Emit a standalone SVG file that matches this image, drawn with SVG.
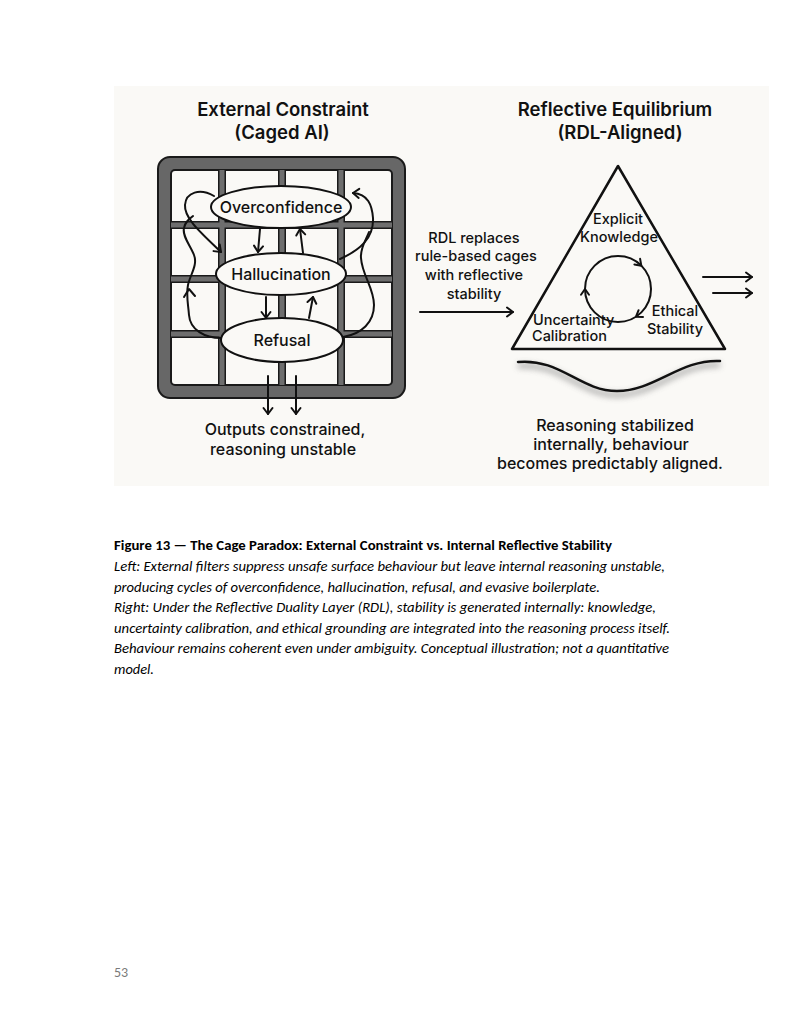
<svg xmlns="http://www.w3.org/2000/svg" width="799" height="1032" viewBox="0 0 799 1032">
<style>
  .t{font-family:Inter,"Noto Sans","Liberation Sans",sans-serif;fill:#111;text-anchor:middle;font-weight:500}
  .h{font-size:18.5px;font-weight:600}
  .n{font-size:16px}
  .s{font-size:14.5px}
  .ln{fill:none;stroke:#111;stroke-width:2;stroke-linecap:round;stroke-linejoin:round}
  .cap{font-family:Carlito,Lato,"Liberation Sans",sans-serif;font-size:13.3px;fill:#000}
  .ell{fill:#faf9f6;stroke:#111;stroke-width:2}
</style>
<defs>
  <marker id="ah" markerWidth="12" markerHeight="12" refX="9" refY="6" orient="auto" markerUnits="userSpaceOnUse">
    <path d="M3,1.5 L9,6 L3,10.5" fill="none" stroke="#111" stroke-width="2" stroke-linecap="round" stroke-linejoin="round"/>
  </marker>
  <filter id="sh" x="-20%" y="-100%" width="140%" height="400%">
    <feGaussianBlur stdDeviation="3"/>
  </filter>
</defs>
<rect width="799" height="1032" fill="#fff"/>
<rect x="114" y="86" width="655" height="400" fill="#faf9f6"/>

<g id="title-left">
  <text class="t h" x="283" y="116">External Constraint</text>
  <text class="t h" x="282" y="139">(Caged AI)</text>
</g>
<g id="title-right">
  <text class="t h" x="615" y="116">Reflective Equilibrium</text>
  <text class="t h" x="620" y="139">(RDL-Aligned)</text>
</g>

<g id="cage">
  <rect x="158" y="157" width="247" height="241" rx="12" fill="#676767" stroke="#1a1a1a" stroke-width="2"/>
  <rect x="171" y="170" width="221" height="215" rx="4" fill="#faf9f6" stroke="#1a1a1a" stroke-width="2"/>
  <g fill="#1a1a1a">
    <rect x="218" y="170" width="8" height="215"/>
    <rect x="278" y="170" width="8" height="215"/>
    <rect x="337" y="170" width="8" height="215"/>
    <rect x="171" y="221" width="221" height="8"/>
    <rect x="171" y="275" width="221" height="8"/>
    <rect x="171" y="330" width="221" height="8"/>
  </g>
  <g fill="#6e6e6e">
    <rect x="219.5" y="170" width="5" height="215"/>
    <rect x="279.5" y="170" width="5" height="215"/>
    <rect x="338.5" y="170" width="5" height="215"/>
    <rect x="171" y="222.5" width="221" height="5"/>
    <rect x="171" y="276.5" width="221" height="5"/>
    <rect x="171" y="331.5" width="221" height="5"/>
  </g>
</g>

<g id="connectors">
  <path class="ln" d="M260,229 L258,252" marker-end="url(#ah)"/>
  <path class="ln" d="M303,253 L300,229" marker-end="url(#ah)"/>
  <path class="ln" d="M266,297 L266,318" marker-end="url(#ah)"/>
  <path class="ln" d="M309,318 L313,297" marker-end="url(#ah)"/>
  <path class="ln" d="M214,196 C200,188 186,192 185,205 C184,218 200,232 221,252" marker-end="url(#ah)"/>
  <path class="ln" d="M221,338 C205,338 190,330 189,315 C188,303 186,295 188,285 C190,275 198,265 194,255 C190,245 182,236 184,228 C185,222 189,219 193,216"/>
  <path class="ln" d="M184,297 L189,289 L195,296"/>
  <path class="ln" d="M340,259 C360,250 374,238 373,218 C372,205 368,194 353,193" marker-end="url(#ah)"/>
  <path class="ln" d="M343,337 C362,334 374,322 374,305 C374,288 362,275 361,258 C360,248 366,240 369,232"/>
  <path class="ln" d="M268,376 L268,414" marker-end="url(#ah)"/>
  <path class="ln" d="M296,376 L296,414" marker-end="url(#ah)"/>
  <path class="ln" d="M420,312 L513,312" marker-end="url(#ah)"/>
  <path class="ln" d="M703,277 L752,277" marker-end="url(#ah)"/>
  <path class="ln" d="M713,293 L752,293" marker-end="url(#ah)"/>
</g>

<g id="overconfidence">
  <ellipse class="ell" cx="281" cy="207" rx="70" ry="21"/>
  <text class="t n" x="281" y="213">Overconfidence</text>
</g>
<g id="hallucination">
  <ellipse class="ell" cx="281" cy="274" rx="65" ry="21"/>
  <text class="t n" x="281" y="280">Hallucination</text>
</g>
<g id="refusal">
  <ellipse class="ell" cx="282" cy="340" rx="61" ry="22"/>
  <text class="t n" x="282" y="346">Refusal</text>
</g>

<g id="left-outcome">
  <text class="t n" x="285" y="435">Outputs constrained,</text>
  <text class="t n" x="283" y="455">reasoning unstable</text>
</g>

<g id="rdl-label">
  <text class="t s" x="474" y="243">RDL replaces</text>
  <text class="t s" x="476" y="261">rule-based cages</text>
  <text class="t s" x="474" y="280">with reflective</text>
  <text class="t s" x="474" y="299">stability</text>
</g>

<g id="equilibrium">
  <path d="M618,166 L512,349 L725,349 Z" fill="#faf9f6" stroke="#111" stroke-width="2.5" stroke-linejoin="round"/>
  <circle cx="618" cy="289" r="33" class="ln"/>
  <path class="ln" d="M640.1,258.8 L641.3,265.7 L634.4,264.5"/>
  <path class="ln" d="M643,317 L636,316.7 L638.6,310.2"/>
  <path class="ln" d="M581,294.7 L585,289 L589,294.7"/>
  <text class="t s" x="618" y="224">Explicit</text>
  <text class="t s" x="619" y="242">Knowledge</text>
  <text class="t s" x="675" y="316">Ethical</text>
  <text class="t s" x="675" y="334">Stability</text>
  <text class="t s" x="533" y="325" style="text-anchor:start">Uncertainty</text>
  <text class="t s" x="532" y="341" style="text-anchor:start">Calibration</text>
</g>

<g id="base-wave">
  <path d="M518,366 C560,362 580,395 617,395 C655,395 680,363 720,365" fill="none" stroke="#888" stroke-width="4" filter="url(#sh)" opacity="0.8"/>
  <path d="M518,362 C560,358 580,391 617,391 C655,391 680,359 720,361" fill="none" stroke="#111" stroke-width="2.5" stroke-linecap="round"/>
</g>

<g id="right-outcome">
  <text class="t n" x="615" y="431">Reasoning stabilized</text>
  <text class="t n" x="611" y="450">internally, behaviour</text>
  <text class="t n" x="610" y="469">becomes predictably aligned.</text>
</g>

<g id="caption">
  <text class="cap" x="114" y="550" font-weight="bold" textLength="498" lengthAdjust="spacingAndGlyphs">Figure 13 — The Cage Paradox: External Constraint vs. Internal Reflective Stability</text>
  <text class="cap" x="114" y="571" font-style="italic" textLength="551" lengthAdjust="spacingAndGlyphs">Left: External filters suppress unsafe surface behaviour but leave internal reasoning unstable,</text>
  <text class="cap" x="114" y="592" font-style="italic" textLength="486" lengthAdjust="spacingAndGlyphs">producing cycles of overconfidence, hallucination, refusal, and evasive boilerplate.</text>
  <text class="cap" x="114" y="612" font-style="italic" textLength="542" lengthAdjust="spacingAndGlyphs">Right: Under the Reflective Duality Layer (RDL), stability is generated internally: knowledge,</text>
  <text class="cap" x="114" y="633" font-style="italic" textLength="556" lengthAdjust="spacingAndGlyphs">uncertainty calibration, and ethical grounding are integrated into the reasoning process itself.</text>
  <text class="cap" x="114" y="653" font-style="italic" textLength="555" lengthAdjust="spacingAndGlyphs">Behaviour remains coherent even under ambiguity. Conceptual illustration; not a quantitative</text>
  <text class="cap" x="114" y="674" font-style="italic" textLength="40" lengthAdjust="spacingAndGlyphs">model.</text>
</g>

<g id="page-number">
  <text x="114" y="977" font-family="Carlito,Lato,'Liberation Sans',sans-serif" font-size="14" fill="#7a7a7a">53</text>
</g>
</svg>
